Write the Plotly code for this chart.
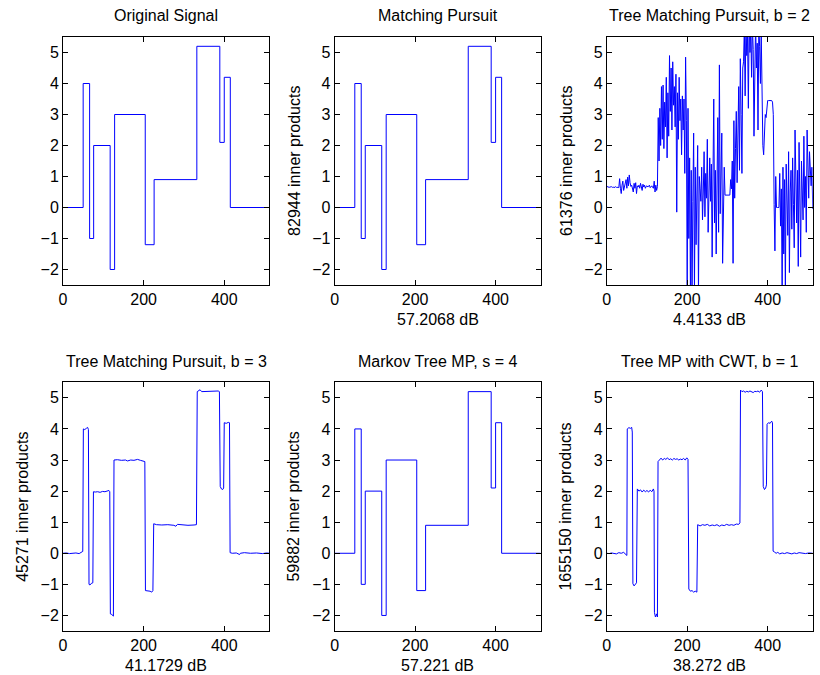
import plotly.graph_objects as go

W, H = 820, 675

# ---------------- data ----------------
# piecewise-constant "blocks" signal: breakpoints and levels
step_x = [0, 50, 66, 76, 117, 128, 204, 226, 332, 389, 400, 415, 512]
step_levels = [0, 4, -1, 2, -2, 3, -1.2, 0.9, 5.2, 2.1, 4.2, 0, 0]

# Tree Matching Pursuit, b = 2 (noisy reconstruction, sampled every 2)
tmp2_values = [
    0.68, 0.66, 0.67, 0.65, 0.66, 0.68, 0.67, 0.65, 0.66, 0.64,
    0.66, 0.67, 0.65, 0.66, 0.65, 0.64, 0.93, 0.62, 0.45, 0.72,
    0.85, 0.55, 0.70, 0.75, 0.90, 0.62, 0.98, 0.70, 1.05, 0.80,
    0.68, 0.72, 0.60, 0.50, 0.78, 0.62, 0.80, 0.45, 0.70, 0.66,
    0.72, 0.62, 0.78, 0.68, 0.55, 0.75, 0.66, 0.72, 0.62, 0.68,
    0.70, 0.66, 0.68, 0.72, 0.64, 0.68, 0.70, 0.65, 0.62, 0.85,
    0.50, 0.72, 0.55, 0.68,
    2.9, 1.5, 3.2, 2.0, 3.9, 2.2, 3.95, 1.9, 3.4, 2.6,
    4.2, 1.6, 3.7, 2.3, 4.9, 3.1, 4.5, 2.5, 4.7, 3.3,
    3.9, 2.6, 4.3, -0.15, 3.7, 2.2, 4.2, 2.8, 3.5, 1.7,
    3.6, 2.5, 3.5, 1.1, 4.85, 2.8,
    -2.8, 3.2, -1.0, 1.6, -2.8, 1.2, -2.8, 0.2, 2.4, -2.8,
    1.3, -1.2, 0.8, 2.0, -2.8, 1.0, 0.6, 0.2, 1.3, -0.4,
    0.5, 1.8, -0.3, 1.1, 0.3, 2.2, -0.8, 0.9, 1.6, 0.2,
    1.4, -1.6, 0.7, 3.5, -0.5, 1.2, -1.5, 0.6, 2.9, -0.8,
    4.6, -0.2, 1.0, 2.4, -1.8, 0.9, 1.3, 0.4, 0.4, 0.4,
    0.4, 0.4, 0.42, 0.4, 0.9, 0.6, 1.5, -1.8, 2.8, 0.3,
    1.9, 3.1, 0.8, 2.7, 3.9, 1.2, 4.8, 3.0, 1.1, 4.5,
    4.7, 5.8, 3.6, 6.0, 4.9, 5.6, 3.2, 6.2, 5.0, 5.8,
    4.2, 5.9, 5.1, 2.3, 5.6, 6.0, 4.5, 5.3, 2.5, 5.9,
    5.2, 4.0, 5.6, 3.2, 2.0, 1.7, 2.7, 3.0, 2.9, 3.1,
    3.45, 3.45, 3.45, 3.45, 3.45, 3.45, 3.4, 3.0, 0.1, -1.4,
    1.0, 0.0, 0.0, 0.0, 0.0, 1.1, -0.6, 0.6, -2.8, 1.3,
    -1.5, 0.9, -2.8, 1.4, 0.2, -0.9, 1.8, -2.1, 0.5, 1.2,
    -0.7, 1.6, 0.1, -1.3, 2.5, 0.4, -0.5, 1.2, -1.9, 2.1,
    0.2, -1.6, 1.5, 0.6, -0.4, 2.3, 0.0, 1.0, -0.8, 2.5,
    0.5, 0.3, 1.8, 1.1, 0.7, 1.3, -0.05,
]
tmp2_x = list(range(0, 2 * len(tmp2_values), 2))

# Tree Matching Pursuit, b = 3
tmp3_x = [0, 8, 16, 24, 32, 40, 46, 49, 50.5, 54, 58, 61, 63, 64.5, 67, 70, 74,
          75.5, 80, 86, 92, 98, 104, 110, 114, 116, 117.5, 121, 125, 126.5, 135,
          145, 155, 160, 168, 176, 185, 192, 198, 203, 204.5, 210, 216, 220, 223,
          225, 232, 245, 260, 275, 280, 284, 295, 310, 325, 331, 333, 336, 340,
          344, 355, 370, 385, 388, 390, 393, 396, 398.5, 400, 405, 410, 413,
          414.5, 420, 430, 438, 440, 450, 465, 480, 495, 505, 512]
tmp3_y = [0.0, 0.01, -0.01, 0.0, 0.01, -0.01, 0.02, 0.06, 4.0, 3.98, 4.02, 4.05,
          3.98, -1.0, -1.02, -0.97, -0.95, 1.98, 1.97, 1.98, 1.96, 1.99, 1.98,
          2.0, 2.02, 1.98, -1.95, -1.97, -2.02, 3.0, 3.01, 2.99, 3.0, 2.97, 3.0,
          2.99, 3.02, 2.99, 2.98, 2.95, -1.2, -1.2, -1.22, -1.25, -1.2, 0.95,
          0.92, 0.91, 0.92, 0.9, 0.87, 0.93, 0.91, 0.9, 0.91, 0.92, 5.2, 5.24,
          5.26, 5.2, 5.21, 5.2, 5.22, 5.2, 2.15, 2.07, 2.05, 2.1, 4.2, 4.18, 4.21,
          4.2, 0.02, 0.0, 0.01, -0.04, 0.0, 0.02, 0.0, 0.01, -0.01, 0.01, 0.0]

# Tree MP with CWT, b = 1
cwt_x = [0, 6, 12, 18, 24, 30, 36, 42, 47, 50, 51, 55, 59, 62, 63.5, 65, 68, 71,
         74, 76, 80, 84, 88, 92, 96, 100, 104, 108, 112, 116, 117.5, 118.5, 121,
         124, 126, 127.5, 131, 135, 139, 143, 147, 151, 155, 159, 163, 167, 171,
         175, 179, 183, 187, 191, 195, 199, 202, 204, 208, 212, 216, 220, 224,
         226, 232, 238, 244, 250, 256, 262, 268, 274, 280, 286, 292, 298, 304,
         310, 316, 322, 328, 331, 332.5, 336, 340, 344, 348, 352, 356, 360, 364,
         368, 372, 376, 380, 384, 387, 389, 392, 395, 397, 398.5, 402, 406, 410,
         412, 413.5, 417, 421, 425, 430, 436, 442, 448, 454, 460, 466, 472, 478,
         486, 494, 502, 512]
cwt_y = [0.0, -0.01, 0.01, 0.0, -0.02, 0.02, 0.0, 0.03, -0.02, -0.07, 4.0, 4.04,
         4.02, 4.05, 3.9, -0.98, -1.05, -0.98, -0.95, 2.07, 2.0, 2.04, 1.97,
         2.03, 1.98, 2.02, 1.97, 2.03, 1.98, 2.07, 2.0, -1.9, -2.05, -1.95,
         -2.05, 2.95, 3.02, 3.06, 3.0, 3.05, 3.02, 3.07, 3.01, 3.04, 3.0, 3.05,
         3.02, 3.04, 3.0, 3.03, 3.01, 3.05, 3.0, 3.07, 3.02, -1.15, -1.22, -1.2,
         -1.25, -1.22, -1.25, 0.92, 0.88, 0.92, 0.9, 0.93, 0.88, 0.91, 0.89,
         0.92, 0.87, 0.91, 0.89, 0.93, 0.9, 0.92, 0.9, 0.94, 0.93, 0.98, 5.25,
         5.2, 5.22, 5.18, 5.21, 5.19, 5.22, 5.2, 5.17, 5.21, 5.2, 5.22, 5.18,
         5.25, 5.2, 2.15, 2.05, 2.1, 2.2, 4.15, 4.2, 4.18, 4.25, 4.2, 0.07, 0.04,
         0.0, 0.03, -0.02, 0.01, -0.01, 0.02, 0.0, -0.02, 0.01, -0.01, 0.02, 0.0,
         -0.01, 0.01, 0.0]

titles = ["Original Signal", "Matching Pursuit", "Tree Matching Pursuit, b = 2",
          "Tree Matching Pursuit, b = 3", "Markov Tree MP, s = 4",
          "Tree MP with CWT, b = 1"]
ylabels = [None, "82944 inner products", "61376 inner products",
           "45271 inner products", "59882 inner products", "1655150 inner products"]
xlabels = [None, "57.2068 dB", "4.4133 dB", "41.1729 dB", "57.221 dB", "38.272 dB"]
x_ticks = [0, 200, 400]
y_ticks = [-2, -1, 0, 1, 2, 3, 4, 5]

# ---------------- layout geometry (pixels) ----------------
col_px = [(59.3, 266.7), (332.3, 539.3), (605.7, 812.7)]
row_px = [(37, 285), (382.3, 631)]

series = [
    (step_x, step_levels, "hv"),
    (step_x, step_levels, "hv"),
    (tmp2_x, tmp2_values, "linear"),
    (tmp3_x, tmp3_y, "linear"),
    (step_x, step_levels, "hv"),
    (cwt_x, cwt_y, "linear"),
]

FONT = "Liberation Sans, Arial, Helvetica, sans-serif"
fig = go.Figure()
annotations = []
layout = {}

for k in range(6):
    r, c = divmod(k, 3)
    x0, x1 = col_px[c]
    y0, y1 = row_px[r]
    xa = "xaxis" if k == 0 else f"xaxis{k+1}"
    ya = "yaxis" if k == 0 else f"yaxis{k+1}"
    xref = "x" if k == 0 else f"x{k+1}"
    yref = "y" if k == 0 else f"y{k+1}"
    sx, sy, shape = series[k]
    fig.add_trace(go.Scatter(x=sx, y=sy, mode="lines", line_shape=shape,
                             line=dict(color="#0000ff", width=1),
                             xaxis=xref, yaxis=yref, showlegend=False))
    common = dict(showline=True, linecolor="black", linewidth=1, mirror="allticks",
                  ticks="inside", ticklen=5, tickcolor="black", showgrid=False,
                  zeroline=False, tickfont=dict(family=FONT, size=16, color="black"))
    layout[xa] = dict(domain=[x0 / W, x1 / W], range=[0, 512], tickvals=x_ticks,
                      anchor=yref, **common)
    layout[ya] = dict(domain=[1 - y1 / H, 1 - y0 / H], range=[-2.5, 5.5],
                      tickvals=y_ticks, ticktext=[str(v).replace("-", "\u2212") for v in y_ticks],
                      anchor=xref, **common)
    cx = (x0 + x1) / 2
    annotations.append(dict(text=titles[k], x=cx / W, y=1 - (y0 - 21) / H,
                            xref="paper", yref="paper", showarrow=False,
                            xanchor="center", yanchor="middle",
                            font=dict(family=FONT, size=16, color="black")))
    if ylabels[k]:
        annotations.append(dict(text=ylabels[k], x=(x0 - 41) / W,
                                y=1 - ((y0 + y1) / 2) / H, xref="paper", yref="paper",
                                showarrow=False, textangle=-90, xanchor="center",
                                yanchor="middle",
                                font=dict(family=FONT, size=16, color="black")))
    if xlabels[k]:
        annotations.append(dict(text=xlabels[k], x=cx / W, y=1 - (y1 + 34) / H,
                                xref="paper", yref="paper", showarrow=False,
                                xanchor="center", yanchor="middle",
                                font=dict(family=FONT, size=16, color="black")))

fig.update_layout(width=W, height=H, margin=dict(l=0, r=0, t=0, b=0),
                  paper_bgcolor="white", plot_bgcolor="white",
                  annotations=annotations, **layout)
fig.write_html("out.html", config={"displayModeBar": False},
               post_script="document.body.style.margin='0';document.body.style.overflow='hidden';")
